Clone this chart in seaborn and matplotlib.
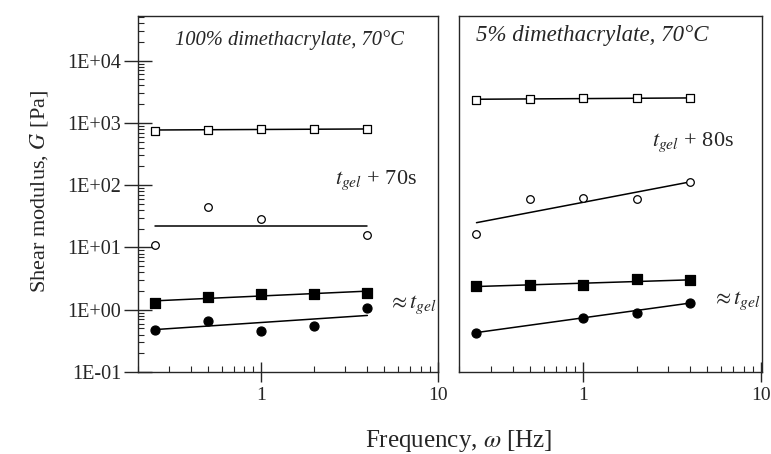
import matplotlib
matplotlib.use('Agg')
import matplotlib.pyplot as plt
import matplotlib.ticker as mticker
import numpy as np
import pandas as pd
import seaborn as sns

# frequencies [Hz]
freq = [0.25, 0.5, 1, 2, 4]

# 100% dimethacrylate, 70C
left_open_sq = [750, 770, 800, 790, 800]
left_open_ci = [11, 45, 29, None, 16]
left_fill_sq = [1.29, 1.59, 1.78, 1.82, 1.85]
left_fill_ci = [0.47, 0.66, 0.45, 0.55, 1.08]
# fitted lines, value at first and last frequency
left_fits = {'open_sq': [770, 800], 'open_ci': [22, 22],
             'fill_sq': [1.39, 1.99], 'fill_ci': [0.48, 0.81]}

# 5% dimethacrylate, 70C
right_open_sq = [2360, 2420, 2480, 2540, 2540]
right_open_ci = [16.4, 60, 62, 61, 113]
right_fill_sq = [2.42, 2.54, 2.52, 3.14, 2.98]
right_fill_ci = [0.43, None, 0.73, 0.88, 1.28]
right_fits = {'open_sq': [2400, 2520], 'open_ci': [25, 113],
              'fill_sq': [2.36, 3.02], 'fill_ci': [0.43, 1.28]}

ytick_vals = [1e-1, 1e0, 1e1, 1e2, 1e3, 1e4]
ytick_labels = ['1E-01', '1E+00', '1E+01', '1E+02', '1E+03', '1E+04']
xtick_vals = [1, 10]
xtick_labels = ['1', '10']

sns.set_style('ticks')
plt.rcParams['font.family'] = ['Liberation Serif', 'DejaVu Serif']
plt.rcParams['mathtext.fontset'] = 'stix'

fig = plt.figure(figsize=(7.71, 4.54), dpi=100)
ax1 = fig.add_axes([0.1786, 0.1806, 0.39, 0.784])
ax2 = fig.add_axes([0.5957, 0.1806, 0.392, 0.784])

styles = {
    'open_sq': dict(marker='s', facecolor='white', s=30),
    'open_ci': dict(marker='o', facecolor='white', s=30),
    'fill_sq': dict(marker='s', facecolor='black', s=42),
    'fill_ci': dict(marker='o', facecolor='black', s=42),
}


def draw(ax, series, fits):
    for key, vals in series.items():
        df = pd.DataFrame({'f': freq, 'G': vals}).dropna()
        fl = pd.DataFrame({'f': [freq[0], freq[-1]], 'G': fits[key]})
        sns.lineplot(data=fl, x='f', y='G', ax=ax, color='black', lw=1.1)
        st = styles[key]
        sns.scatterplot(data=df, x='f', y='G', ax=ax, marker=st['marker'],
                        s=st['s'], facecolor=st['facecolor'],
                        edgecolor='black', linewidth=0.9, zorder=3)
    ax.set_xscale('log')
    ax.set_yscale('log')
    ax.set_xlim(0.2, 10.1)
    ax.set_ylim(0.1, 5.2e4)
    ax.set_xlabel('')
    ax.set_ylabel('')
    for sp in ax.spines.values():
        sp.set_visible(True)
        sp.set_linewidth(1.0)
    ax.set_xticks(xtick_vals)
    ax.set_xticklabels(xtick_labels, fontsize=14)
    ax.xaxis.set_minor_locator(mticker.LogLocator(base=10, subs=np.arange(2, 10)))
    ax.xaxis.set_minor_formatter(mticker.NullFormatter())
    ax.tick_params(axis='x', which='major', direction='inout', length=14, width=1, pad=4)
    ax.tick_params(axis='x', which='minor', direction='in', length=4, width=0.8)


draw(ax1, {'open_sq': left_open_sq, 'open_ci': left_open_ci,
           'fill_sq': left_fill_sq, 'fill_ci': left_fill_ci}, left_fits)
draw(ax2, {'open_sq': right_open_sq, 'open_ci': right_open_ci,
           'fill_sq': right_fill_sq, 'fill_ci': right_fill_ci}, right_fits)

ax1.set_yticks(ytick_vals)
ax1.set_yticklabels(ytick_labels, fontsize=14.5)
ax1.yaxis.set_minor_locator(mticker.LogLocator(base=10, subs=np.arange(2, 10)))
ax1.yaxis.set_minor_formatter(mticker.NullFormatter())
ax1.tick_params(axis='y', which='major', direction='inout', length=20, width=1, pad=2)
ax1.tick_params(axis='y', which='minor', direction='in', length=4, width=0.8)

ax2.set_yticks([])
ax2.yaxis.set_minor_locator(mticker.NullLocator())

ax1.text(0.504, 0.933, '100% dimethacrylate, 70°C', transform=ax1.transAxes,
         ha='center', va='center', fontsize=14.8, style='italic')
ax2.text(0.439, 0.946, '5% dimethacrylate, 70°C', transform=ax2.transAxes,
         ha='center', va='center', fontsize=16.5, style='italic')

ax1.text(0.657, 0.54, r'$t_{gel}$ + 70s', transform=ax1.transAxes,
         ha='left', va='center', fontsize=16)
ax2.text(0.636, 0.645, r'$t_{gel}$ + 80s', transform=ax2.transAxes,
         ha='left', va='center', fontsize=16)
ax1.text(0.833, 0.188, r'$\approx t_{gel}$', transform=ax1.transAxes,
         ha='left', va='center', fontsize=16)
ax2.text(0.835, 0.2, r'$\approx t_{gel}$', transform=ax2.transAxes,
         ha='left', va='center', fontsize=16)

fig.text(39 / 771, 1 - 191 / 454, r'Shear modulus, $G$ [Pa]', rotation=90,
         ha='center', va='center', fontsize=16)
fig.text(459 / 771, 1 - 441 / 454, r'Frequency, $\omega$ [Hz]',
         ha='center', va='center', fontsize=18)

fig.savefig('out.png', dpi=100)
